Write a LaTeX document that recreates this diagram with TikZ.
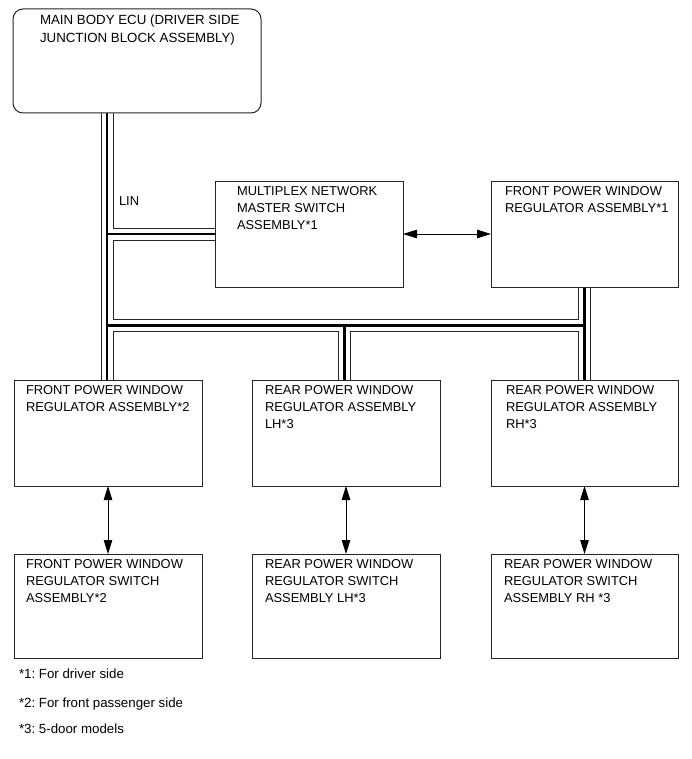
\documentclass[tikz,border=0pt]{standalone}
\usepackage{fontspec}
\setmainfont{Liberation Sans}
\frenchspacing
\usetikzlibrary{arrows.meta,backgrounds}
\begin{document}
\begin{tikzpicture}[x=1pt,y=-1pt,
  box/.style={draw=black!85, line width=1pt, fill=white, inner sep=0pt, outer sep=0pt, anchor=north west},
  lbl/.style={anchor=north west, inner sep=0pt, outer sep=0pt, align=left, font=\fontsize{12.9}{17}\selectfont},
  biglbl/.style={lbl, font=\fontsize{13.3}{17.5}\selectfont},
  link/.style={line width=0.9pt, {Triangle[length=14pt,width=8.5pt]}-{Triangle[length=14pt,width=8.5pt]}},
]
\useasboundingbox (0,0) rectangle (691,759);

% boxes
\node[box, rounded corners=10pt, minimum width=248pt, minimum height=104pt] (ecu) at (13,9) {};
\node[box, minimum width=188pt, minimum height=105pt] (ms)  at (215,182) {};
\node[box, minimum width=187pt, minimum height=105pt] (fr1) at (491,182) {};
\node[box, minimum width=188pt, minimum height=106pt] (fl)  at (14,380) {};
\node[box, minimum width=188pt, minimum height=106pt] (rl)  at (252,380) {};
\node[box, minimum width=187pt, minimum height=106pt] (rr)  at (491,380) {};
\node[box, minimum width=188pt, minimum height=104pt] (fls) at (14,554) {};
\node[box, minimum width=188pt, minimum height=104pt] (rls) at (252,554) {};
\node[box, minimum width=187pt, minimum height=104pt] (rrs) at (491,554) {};

% texts
\node[biglbl] (tecu) at (40,15) {MAIN BODY ECU (DRIVER SIDE\\JUNCTION BLOCK ASSEMBLY)};
\node[lbl] (tms)  at (237,186) {MULTIPLEX NETWORK\\MASTER SWITCH\\ASSEMBLY*1};
\node[lbl] (tfr1) at (505,186) {FRONT POWER WINDOW\\REGULATOR ASSEMBLY*1};
\node[lbl] (tfl)  at (26,385) {FRONT POWER WINDOW\\REGULATOR ASSEMBLY*2};
\node[lbl] (trl)  at (265,385) {REAR POWER WINDOW\\REGULATOR ASSEMBLY\\LH*3};
\node[lbl] (trr)  at (506,385) {REAR POWER WINDOW\\REGULATOR ASSEMBLY\\RH*3};
\node[lbl] (tfls) at (26,559) {FRONT POWER WINDOW\\REGULATOR SWITCH\\ASSEMBLY*2};
\node[lbl] (trls) at (265,559) {REAR POWER WINDOW\\REGULATOR SWITCH\\ASSEMBLY LH*3};
\node[lbl] (trrs) at (504,559) {REAR POWER WINDOW\\REGULATOR SWITCH\\ASSEMBLY RH *3};
\node[lbl] (lin)  at (119,197) {LIN};
\node[biglbl] (n1) at (19,669) {*1: For driver side};
\node[biglbl] (n2) at (19,698) {*2: For front passenger side};
\node[biglbl] (n3) at (19,724) {*3: 5-door models};

% bus junctions
\coordinate (j0) at (107,113);
\coordinate (j1) at (107,234);
\coordinate (j2) at (107,325.5);
\coordinate (j3) at (344.5,325.5);
\coordinate (j4) at (584.5,325.5);
\coordinate (j5) at (107,380);

\begin{scope}[on background layer]
\foreach \w/\c in {13/black!85,11/white,2.8/black}{
  \draw[line width=\w pt, draw=\c, line cap=butt]
    (j0) -- (j5)
    (j1) -- (ms.west |- j1)
    (j2) -- (j4)
    (j3) -- (j3 |- rl.north)
    (j4 |- fr1.south) -- (j4 |- rr.north);
}
\end{scope}

% arrows
\draw[link] (ms.east |- j1) -- (fr1.west |- j1);
\draw[link] (fl.south) -- (fls.north);
\draw[link] (rl.south) -- (rls.north);
\draw[link] (rr.south) -- (rrs.north);
\end{tikzpicture}
\end{document}
